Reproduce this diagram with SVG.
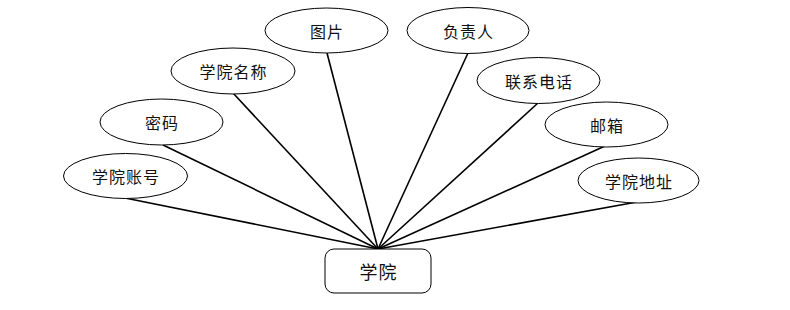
<svg xmlns="http://www.w3.org/2000/svg" width="790" height="310" viewBox="0 0 790 310">
<style>
.e{fill:#fff;stroke:#000;stroke-width:1}
.t{font-family:"Noto Sans CJK SC","Noto Sans",sans-serif;font-size:16px;fill:#111;text-anchor:middle;dominant-baseline:central;letter-spacing:1px}
.c line{stroke:#000;stroke-width:1.6}
</style>
<rect width="790" height="310" fill="#fff"/>
<g class="c" id="connectors">
<line x1="125" y1="198" x2="378" y2="249"/>
<line x1="163" y1="145" x2="378" y2="249"/>
<line x1="233" y1="93" x2="378" y2="249"/>
<line x1="327" y1="53" x2="378" y2="249"/>
<line x1="468" y1="53" x2="378" y2="249"/>
<line x1="538" y1="103" x2="378" y2="249"/>
<line x1="605" y1="146" x2="378" y2="249"/>
<line x1="637" y1="202" x2="378" y2="249"/>
</g>
<g id="n-zhanghao"><ellipse class="e" cx="125.5" cy="176" rx="62" ry="22.5"/><text class="t" x="126" y="176">学院账号</text></g>
<g id="n-mima"><ellipse class="e" cx="161.5" cy="122" rx="61.5" ry="23"/><text class="t" x="162" y="122">密码</text></g>
<g id="n-mingcheng"><ellipse class="e" cx="233" cy="71" rx="62" ry="23"/><text class="t" x="233.5" y="71">学院名称</text></g>
<g id="n-tupian"><ellipse class="e" cx="326.5" cy="30.5" rx="61.5" ry="22.5"/><text class="t" x="327" y="30.5">图片</text></g>
<g id="n-fuzeren"><ellipse class="e" cx="468" cy="30.5" rx="61" ry="23"/><text class="t" x="468.5" y="30.5">负责人</text></g>
<g id="n-dianhua"><ellipse class="e" cx="538.5" cy="80.5" rx="61.5" ry="23"/><text class="t" x="539" y="80.5">联系电话</text></g>
<g id="n-youxiang"><ellipse class="e" cx="606.5" cy="124.5" rx="61.5" ry="22.5"/><text class="t" x="607" y="124.5">邮箱</text></g>
<g id="n-dizhi"><ellipse class="e" cx="638.5" cy="180.5" rx="60.5" ry="22.5"/><text class="t" x="639" y="180.5">学院地址</text></g>
<g id="n-xueyuan"><rect class="e" x="325" y="249" width="106" height="44" rx="9"/><text class="t" x="378.5" y="271" style="font-size:18px">学院</text></g>
</svg>
